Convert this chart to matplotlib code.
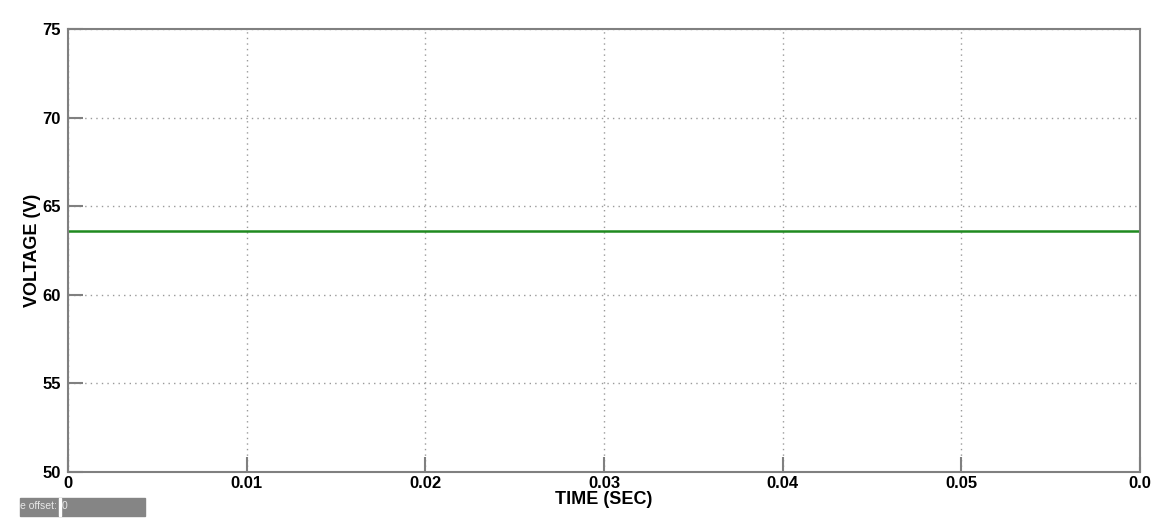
import matplotlib
matplotlib.use("Agg")
from matplotlib import pyplot as plt
from matplotlib.patches import Rectangle

# simulated output voltage over the run
time_sec = [0.0, 0.06]
voltage = [63.6, 63.6]

x_ticks = [0, 0.01, 0.02, 0.03, 0.04, 0.05, 0.06]
x_tick_labels = ["0", "0.01", "0.02", "0.03", "0.04", "0.05", "0.0"]
y_ticks = [50, 55, 60, 65, 70, 75]

plt.rcParams['font.family'] = ['Liberation Sans', 'DejaVu Sans']
plt.rcParams['font.weight'] = 'bold'

fig = plt.figure(figsize=(11.66, 5.18), dpi=100)
ax = fig.add_axes([68/1166, 1 - 472/518, (1140-68)/1166, (472-29)/518])

ax.plot(time_sec, voltage, color="#1f8a1f", lw=1.8)

ax.set_xlim(0, 0.06)
ax.set_ylim(50, 75)
ax.set_xticks(x_ticks)
ax.set_xticklabels(x_tick_labels)
ax.set_yticks(y_ticks)
ax.tick_params(direction='in', length=11, width=1.5, color='#808080',
               labelsize=12)
ax.tick_params(axis='x', pad=3)
ax.tick_params(axis='y', pad=5)
for lab in ax.get_xticklabels() + ax.get_yticklabels():
    lab.set_fontweight('bold')

ax.grid(True, linestyle=(0, (1, 3)), color='#9a9a9a', lw=1)
for s in ax.spines.values():
    s.set_color('#808080')
    s.set_linewidth(1.5)

ax.set_xlabel("TIME (SEC)", fontsize=13, fontweight='bold', labelpad=0)
ax.set_ylabel("VOLTAGE (V)", fontsize=13, fontweight='bold', labelpad=1)

# time offset readout at the bottom left
fig.patches.append(Rectangle((20/1166, 1 - 516/518), 125/1166, 18/518,
                             transform=fig.transFigure, color='#858585'))
fig.patches.append(Rectangle((59/1166, 1 - 516/518), 1.5/1166, 18/518,
                             transform=fig.transFigure, color='white'))
fig.text(20/1166, 1 - 506/518, "e offset:", fontsize=7.5, color='#e8e8e8',
         va='center', fontweight='normal')
fig.text(62/1166, 1 - 506/518, "0", fontsize=7.5, color='#e8e8e8',
         va='center', fontweight='normal')

fig.savefig("out.png", dpi=100)
